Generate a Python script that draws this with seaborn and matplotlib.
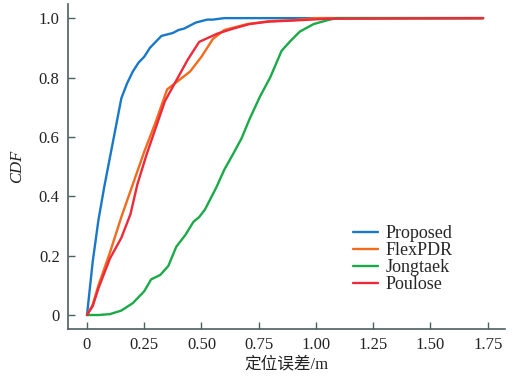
import matplotlib
matplotlib.use('Agg')
import matplotlib.pyplot as plt
import seaborn as sns
import pandas as pd

# CDF curves (error in m, CDF)
proposed_x = [0, 0.025, 0.05, 0.075, 0.1, 0.125, 0.15, 0.175, 0.2, 0.225, 0.25, 0.275, 0.3,
              0.325, 0.35, 0.375, 0.4, 0.425, 0.45, 0.475, 0.5, 0.525, 0.55, 0.6, 1.0, 1.73]
proposed_y = [0, 0.18, 0.32, 0.43, 0.53, 0.63, 0.73, 0.78, 0.82, 0.85, 0.87, 0.90, 0.92,
              0.94, 0.945, 0.95, 0.96, 0.965, 0.975, 0.985, 0.99, 0.995, 0.995, 1.0, 1.0, 1.0]

flexpdr_x = [0, 0.025, 0.05, 0.1, 0.15, 0.2, 0.25, 0.3, 0.35, 0.4, 0.45, 0.5, 0.55,
             0.6, 0.7, 0.8, 0.9, 1.0, 1.73]
flexpdr_y = [0, 0.035, 0.1, 0.21, 0.33, 0.44, 0.55, 0.65, 0.76, 0.79, 0.82, 0.87, 0.93,
             0.96, 0.98, 0.99, 0.993, 1.0, 1.0]

jongtaek_x = [0, 0.05, 0.1, 0.15, 0.2, 0.25, 0.28, 0.32, 0.355, 0.39, 0.43, 0.465, 0.49,
              0.515, 0.565, 0.6, 0.64, 0.675, 0.71, 0.755, 0.8, 0.85, 0.885, 0.93, 0.99,
              1.05, 1.09, 1.73]
jongtaek_y = [0, 0.0, 0.003, 0.015, 0.04, 0.08, 0.12, 0.135, 0.165, 0.23, 0.27, 0.314, 0.33,
              0.355, 0.43, 0.49, 0.545, 0.595, 0.66, 0.735, 0.80, 0.89, 0.92, 0.955, 0.98,
              0.993, 1.0, 1.0]

poulose_x = [0, 0.025, 0.05, 0.1, 0.15, 0.19, 0.22, 0.26, 0.3, 0.34, 0.39, 0.44, 0.49,
             0.57, 0.64, 0.71, 0.79, 0.93, 1.05, 1.73]
poulose_y = [0, 0.03, 0.09, 0.19, 0.26, 0.34, 0.44, 0.54, 0.63, 0.72, 0.79, 0.86, 0.92,
             0.948, 0.965, 0.98, 0.988, 0.993, 0.998, 1.0]

labels = ['Proposed', 'FlexPDR', 'Jongtaek', 'Poulose']
colors = ['#1a78c8', '#f26b1d', '#1aaa48', '#ee2a3a']

xticks = [0, 0.25, 0.5, 0.75, 1.0, 1.25, 1.5, 1.75]
xticklabels = ['0', '0.25', '0.50', '0.75', '1.00', '1.25', '1.50', '1.75']
yticks = [0, 0.2, 0.4, 0.6, 0.8, 1.0]
yticklabels = ['0', '0.2', '0.4', '0.6', '0.8', '1.0']

frames = []
for name, xs, ys in zip(labels,
                        [proposed_x, flexpdr_x, jongtaek_x, poulose_x],
                        [proposed_y, flexpdr_y, jongtaek_y, poulose_y]):
    frames.append(pd.DataFrame({'err': xs, 'cdf': ys, 'method': name}))
df = pd.concat(frames, ignore_index=True)

sns.set_style('ticks')
plt.rcParams['font.family'] = ['Liberation Serif', 'Noto Sans CJK SC']

spine_color = '#4d6060'

fig = plt.figure(figsize=(5.21, 3.79), dpi=100)
ax = fig.add_axes([0.1305, 0.132, 0.8385, 0.857])

sns.lineplot(data=df, x='err', y='cdf', hue='method', hue_order=labels,
             palette=colors, linewidth=1.7, sort=False, estimator=None, ax=ax)

ax.set_xlim(-0.083, 1.825)
ax.set_ylim(-0.047, 1.047)
ax.set_xticks(xticks)
ax.set_xticklabels(xticklabels)
ax.set_yticks(yticks)
ax.set_yticklabels(yticklabels)
ax.tick_params(direction='in', length=5, width=1, color=spine_color,
               labelsize=12, labelcolor='#222222', pad=6)

for side in ['top', 'right']:
    ax.spines[side].set_visible(False)
for side in ['left', 'bottom']:
    ax.spines[side].set_color(spine_color)
    ax.spines[side].set_linewidth(1.2)

ax.set_xlabel('定位误差/m', fontsize=12, color='#222222', labelpad=2)
ax.set_ylabel('CDF', fontsize=12, style='italic', color='#222222', labelpad=10)

ax.legend(loc='upper left', bbox_to_anchor=(0.631, 0.347), frameon=False, fontsize=13,
          labelspacing=0.0, handlelength=1.4, handletextpad=0.4, borderpad=0)

fig.savefig('out.png', dpi=100)
